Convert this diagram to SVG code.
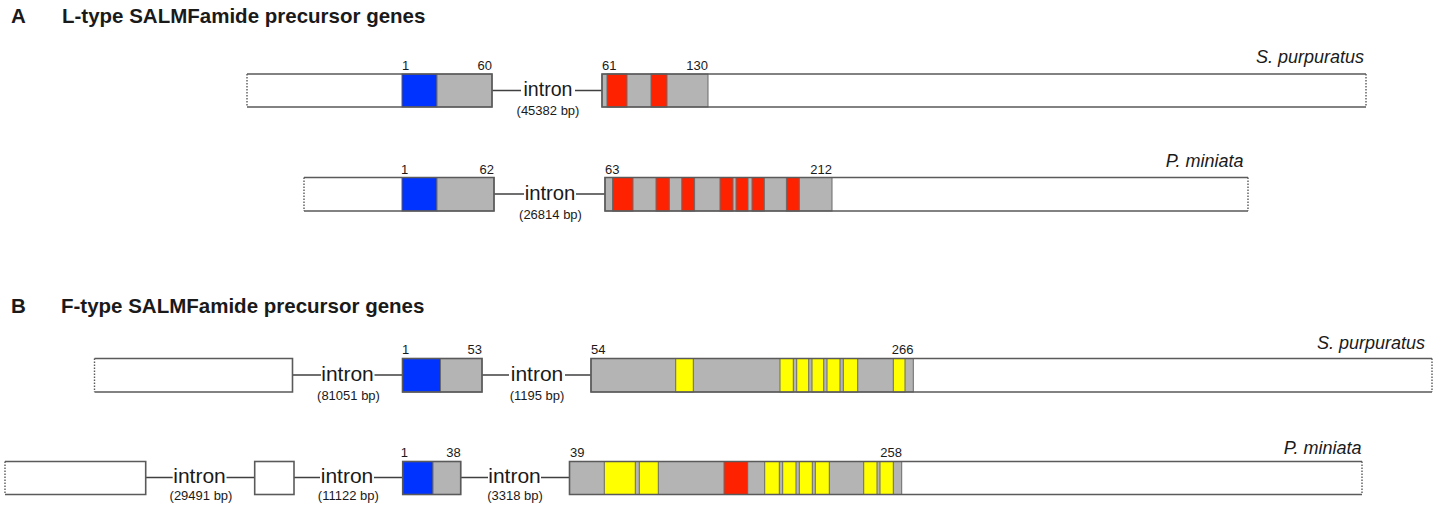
<svg xmlns="http://www.w3.org/2000/svg" width="1439" height="508" viewBox="0 0 1439 508">
<style>
text{font-family:"Liberation Sans",Arial,sans-serif;fill:#1a1a1a}
.title{font-weight:bold;font-size:20.5px}
.num{font-size:13px}
.mid{text-anchor:middle}
.end{text-anchor:end}
.i1{font-size:19.6px;text-anchor:middle}
.i2{font-size:20.3px;text-anchor:middle}
.i3{font-size:21px;text-anchor:middle}
.bp{font-size:13px;text-anchor:middle}
.sp{font-style:italic;font-size:18px;text-anchor:end}
.w{fill:#fff}
.b{fill:#0033ff;stroke:#5a5a6a;stroke-width:1}
.g{fill:#b4b4b4;stroke:#6a6a6a;stroke-width:1}
.r{fill:#ff2200;stroke:#6a6a6a;stroke-width:1}
.y{fill:#ffff00;stroke:#6a6a6a;stroke-width:1}
.out{fill:none;stroke:#5a5a5a;stroke-width:1.6}
.dot{fill:none;stroke:#5a5a5a;stroke-width:1.4;stroke-dasharray:1.5 1.5}
.ln{stroke:#404040;stroke-width:1.4;fill:none}
</style>

<g id="titles">
<text class="title" x="11" y="22.5">A</text>
<text class="title" x="62" y="22.5">L-type SALMFamide precursor genes</text>
<text class="title" x="11" y="313">B</text>
<text class="title" x="61" y="313">F-type SALMFamide precursor genes</text>
</g>

<g id="connectors">
<path class="ln" d="M492,90.5H521M575,90.5H602"/>
<path class="ln" d="M494,194H524M576,194H605"/>
<path class="ln" d="M292.5,375H321M374.5,375H402.5M482,375H509M565,375H591"/>
<path class="ln" d="M145.7,477.5H172.7M226.5,477.5H254.7M294,477.5H320M374,477.5H402.7M460.7,477.5H488M541,477.5H569.5"/>
</g>

<g id="intron-labels">
<text class="i1" x="548" y="96">intron</text>
<text class="bp" x="548" y="114.5">(45382 bp)</text>
<text class="i2" x="550" y="199.5">intron</text>
<text class="bp" x="550.5" y="218.5">(26814 bp)</text>
<text class="i3" x="347.5" y="381">intron</text>
<text class="bp" x="348.5" y="399.5">(81051 bp)</text>
<text class="i3" x="537" y="381">intron</text>
<text class="bp" x="537" y="399.5">(1195 bp)</text>
<text class="i3" x="199.5" y="483">intron</text>
<text class="bp" x="201" y="500">(29491 bp)</text>
<text class="i3" x="347" y="483">intron</text>
<text class="bp" x="348.3" y="500">(11122 bp)</text>
<text class="i3" x="514.5" y="483">intron</text>
<text class="bp" x="515" y="500">(3318 bp)</text>
</g>

<!-- Row 1: L-type S. purpuratus -->
<g id="L-Sp-exon1">
<rect class="w" x="247" y="74" width="155" height="33"/>
<rect class="b" x="402" y="74" width="35" height="33"/>
<rect class="g" x="437" y="74" width="55" height="33"/>
<path class="out" d="M247,74H492V107H247"/>
<path class="dot" d="M247,74V107"/>
<text class="num mid" x="405.5" y="70">1</text>
<text class="num end" x="492" y="70">60</text>
</g>
<g id="L-Sp-exon2">
<rect class="w" x="708" y="74" width="658" height="33"/>
<rect class="g" x="602" y="74" width="106" height="33"/>
<rect class="r" x="607" y="74" width="20" height="33"/>
<rect class="r" x="651" y="74" width="16" height="33"/>
<path class="out" d="M1366,74H602V107H1366"/>
<path class="dot" d="M1366,74V107"/>
<text class="num" x="602" y="70">61</text>
<text class="num end" x="708" y="70">130</text>
<text class="sp" x="1364" y="63">S. purpuratus</text>
</g>

<!-- Row 2: L-type P. miniata -->
<g id="L-Pm-exon1">
<rect class="w" x="304" y="177.5" width="98" height="33.5"/>
<rect class="b" x="402" y="177.5" width="35" height="33.5"/>
<rect class="g" x="437" y="177.5" width="57" height="33.5"/>
<path class="out" d="M304,177.5H494V211H304"/>
<path class="dot" d="M304,177.5V211"/>
<text class="num mid" x="404.5" y="173.5">1</text>
<text class="num end" x="494" y="173.5">62</text>
</g>
<g id="L-Pm-exon2">
<rect class="w" x="832" y="177.5" width="416" height="33.5"/>
<rect class="g" x="605" y="177.5" width="227" height="33.5"/>
<rect class="r" x="612.5" y="177.5" width="20.5" height="33.5"/>
<rect class="r" x="656" y="177.5" width="13.3" height="33.5"/>
<rect class="r" x="681.8" y="177.5" width="12.8" height="33.5"/>
<rect class="r" x="720" y="177.5" width="13" height="33.5"/>
<rect class="r" x="736" y="177.5" width="12" height="33.5"/>
<rect class="r" x="752" y="177.5" width="12.3" height="33.5"/>
<rect class="r" x="786.4" y="177.5" width="12.9" height="33.5"/>
<path class="out" d="M1248,177.5H605V211H1248"/>
<path class="dot" d="M1248,177.5V211"/>
<text class="num" x="605" y="173.5">63</text>
<text class="num end" x="832" y="173.5">212</text>
<text class="sp" x="1243.5" y="166.5">P. miniata</text>
</g>

<!-- Row 3: F-type S. purpuratus -->
<g id="F-Sp-exon0">
<rect class="w" x="94.5" y="358.5" width="198" height="33.5"/>
<path class="out" d="M94.5,358.5H292.5V392H94.5"/>
<path class="dot" d="M94.5,358.5V392"/>
</g>
<g id="F-Sp-exon1">
<rect class="b" x="402.5" y="358.5" width="38" height="33.5"/>
<rect class="g" x="440.5" y="358.5" width="41.5" height="33.5"/>
<rect class="out" x="402.5" y="358.5" width="79.5" height="33.5"/>
<text class="num mid" x="405.5" y="354">1</text>
<text class="num end" x="482" y="354">53</text>
</g>
<g id="F-Sp-exon2">
<rect class="w" x="913.3" y="358.5" width="518.7" height="33.5"/>
<rect class="g" x="591" y="358.5" width="322.3" height="33.5"/>
<rect class="y" x="675.7" y="358.5" width="17.6" height="33.5"/>
<rect class="y" x="780" y="358.5" width="13.3" height="33.5"/>
<rect class="y" x="796.7" y="358.5" width="12" height="33.5"/>
<rect class="y" x="812" y="358.5" width="11.7" height="33.5"/>
<rect class="y" x="827" y="358.5" width="13" height="33.5"/>
<rect class="y" x="843.3" y="358.5" width="14.4" height="33.5"/>
<rect class="y" x="893.3" y="358.5" width="11.7" height="33.5"/>
<path class="out" d="M1432,358.5H591V392H1432"/>
<path class="dot" d="M1432,358.5V392"/>
<text class="num" x="591" y="354">54</text>
<text class="num end" x="913.5" y="354">266</text>
<text class="sp" x="1425" y="348.5">S. purpuratus</text>
</g>

<!-- Row 4: F-type P. miniata -->
<g id="F-Pm-exon0">
<rect class="w" x="5" y="461.5" width="140.7" height="33"/>
<path class="out" d="M5,461.5H145.7V494.5H5"/>
<path class="dot" d="M5,461.5V494.5"/>
</g>
<g id="F-Pm-exon0b">
<rect class="w" x="254.7" y="461.5" width="39.3" height="33"/>
<rect class="out" x="254.7" y="461.5" width="39.3" height="33"/>
</g>
<g id="F-Pm-exon1">
<rect class="b" x="402.7" y="461.5" width="30.3" height="33"/>
<rect class="g" x="433" y="461.5" width="27.7" height="33"/>
<rect class="out" x="402.7" y="461.5" width="58" height="33"/>
<text class="num mid" x="404.3" y="457">1</text>
<text class="num end" x="460.7" y="457">38</text>
</g>
<g id="F-Pm-exon2">
<rect class="w" x="901.7" y="461.5" width="460.3" height="33"/>
<rect class="g" x="569.5" y="461.5" width="332.2" height="33"/>
<rect class="y" x="604.3" y="461.5" width="31" height="33"/>
<rect class="y" x="639.3" y="461.5" width="19" height="33"/>
<rect class="r" x="724" y="461.5" width="23.7" height="33"/>
<rect class="y" x="764.7" y="461.5" width="14.6" height="33"/>
<rect class="y" x="782.7" y="461.5" width="13.3" height="33"/>
<rect class="y" x="799.3" y="461.5" width="13" height="33"/>
<rect class="y" x="815.3" y="461.5" width="14" height="33"/>
<rect class="y" x="863.7" y="461.5" width="13.3" height="33"/>
<rect class="y" x="880" y="461.5" width="13.3" height="33"/>
<path class="out" d="M1362,461.5H569.5V494.5H1362"/>
<path class="dot" d="M1362,461.5V494.5"/>
<text class="num" x="570" y="457">39</text>
<text class="num end" x="902" y="457">258</text>
<text class="sp" x="1361.5" y="453.5">P. miniata</text>
</g>
</svg>
